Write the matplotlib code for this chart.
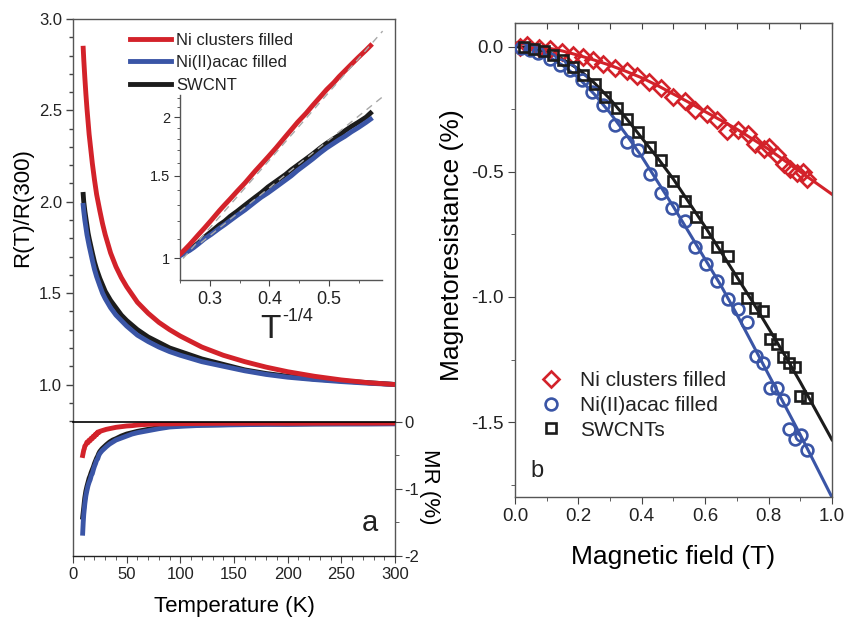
import numpy as np
import matplotlib.pyplot as plt
from matplotlib.ticker import MultipleLocator, NullFormatter
from matplotlib.transforms import Bbox, TransformedBbox

plt.rcParams['font.family'] = ['Liberation Sans', 'DejaVu Sans']
plt.rcParams['axes.unicode_minus'] = False
plt.rcParams['text.color'] = '#222222'
plt.rcParams['xtick.color'] = '#444444'
plt.rcParams['ytick.color'] = '#444444'
plt.rcParams['xtick.labelcolor'] = '#222222'
plt.rcParams['ytick.labelcolor'] = '#222222'

RED = '#d3222a'
BLUE = '#3a55a6'
BLACK = '#1c1c1c'
SPINE = '#555555'

# R(T)/R(300) against temperature
temp = np.array([9.5, 10, 11, 12, 13, 14, 15, 16.5, 18, 20, 22, 25, 27.5, 30, 35, 40,
                 45, 50, 60, 70, 80, 90, 100, 120, 140, 160, 180, 200, 225, 250, 275, 300])
r_ni = np.array([2.84, 2.78, 2.68, 2.59, 2.51, 2.44, 2.37, 2.29, 2.21, 2.12, 2.04, 1.95,
                 1.88, 1.82, 1.72, 1.645, 1.585, 1.535, 1.45, 1.39, 1.34, 1.30, 1.265, 1.205,
                 1.16, 1.125, 1.095, 1.07, 1.045, 1.025, 1.01, 1.0])
r_acac = np.array([1.98, 1.95, 1.90, 1.86, 1.82, 1.79, 1.76, 1.72, 1.68, 1.63, 1.59, 1.54,
                   1.50, 1.47, 1.42, 1.38, 1.35, 1.32, 1.27, 1.235, 1.205, 1.18, 1.16, 1.125,
                   1.10, 1.075, 1.055, 1.04, 1.027, 1.016, 1.007, 1.0])
r_swcnt = np.array([2.04, 2.00, 1.95, 1.91, 1.87, 1.83, 1.80, 1.76, 1.72, 1.67, 1.63, 1.58,
                    1.545, 1.51, 1.46, 1.42, 1.38, 1.35, 1.30, 1.26, 1.23, 1.20, 1.18, 1.14,
                    1.11, 1.08, 1.06, 1.045, 1.03, 1.02, 1.01, 1.0])

# VRH fits in the inset (T^-1/4, R)
fit_ni_x = [0.255, 0.59]
fit_ni_y = [1.00, 3.05]
fit_sw_x = [0.285, 0.59]
fit_sw_y = [1.08, 2.21]

# MR(T) in the lower panel
temp_mr = np.array([9, 9.5, 10, 10.5, 11, 12, 13, 14, 15, 16, 17, 18, 19, 20, 21, 22, 23, 24,
                    25, 27, 29, 31, 34, 37, 40, 45, 50, 55, 60, 70, 80, 90, 100, 120, 140,
                    160, 180, 200, 225, 250, 275, 300])
mr_ni_t = np.array([-0.50, -0.46, -0.42, -0.40, -0.36, -0.34, -0.30, -0.31, -0.27, -0.28,
                    -0.24, -0.25, -0.21, -0.22, -0.18, -0.19, -0.15, -0.16, -0.14, -0.13,
                    -0.12, -0.11, -0.10, -0.09, -0.08, -0.07, -0.06, -0.055, -0.045, -0.035,
                    -0.03, -0.028, -0.025, -0.022, -0.02, -0.02, -0.018, -0.02, -0.018,
                    -0.017, -0.017, -0.016])
mr_acac_t = np.array([-1.66, -1.50, -1.38, -1.30, -1.22, -1.10, -1.02, -0.95, -0.90, -0.86,
                      -0.80, -0.77, -0.71, -0.66, -0.62, -0.57, -0.55, -0.50, -0.47, -0.43,
                      -0.40, -0.37, -0.33, -0.30, -0.27, -0.24, -0.21, -0.18, -0.16, -0.13,
                      -0.10, -0.075, -0.065, -0.05, -0.045, -0.04, -0.035, -0.035, -0.03,
                      -0.03, -0.03, -0.028])
mr_swcnt_t = np.array([-1.42, -1.35, -1.28, -1.20, -1.13, -1.03, -0.96, -0.90, -0.84, -0.80,
                       -0.75, -0.71, -0.67, -0.62, -0.58, -0.54, -0.51, -0.47, -0.44, -0.40,
                       -0.37, -0.34, -0.30, -0.27, -0.25, -0.21, -0.18, -0.16, -0.14, -0.11,
                       -0.085, -0.065, -0.055, -0.045, -0.04, -0.035, -0.03, -0.03, -0.028,
                       -0.026, -0.025, -0.024])

# magnetoresistance against field
field_ni = np.array([0.016, 0.039, 0.077, 0.110, 0.147, 0.182, 0.216, 0.247, 0.279, 0.315,
                     0.352, 0.386, 0.424, 0.460, 0.499, 0.536, 0.568, 0.605, 0.638, 0.670,
                     0.705, 0.735, 0.757, 0.785, 0.800, 0.825, 0.850, 0.868, 0.889, 0.910,
                     0.920])
mr_ni = np.array([-0.001, 0.005, -0.004, -0.011, -0.022, -0.032, -0.041, -0.052, -0.068,
                  -0.085, -0.099, -0.119, -0.141, -0.164, -0.200, -0.218, -0.252, -0.270,
                  -0.295, -0.338, -0.332, -0.348, -0.390, -0.410, -0.402, -0.433, -0.468,
                  -0.490, -0.505, -0.500, -0.530])
field_acac = np.array([0.020, 0.047, 0.074, 0.110, 0.142, 0.174, 0.210, 0.242, 0.279, 0.315,
                       0.352, 0.389, 0.426, 0.460, 0.496, 0.536, 0.568, 0.603, 0.638, 0.673,
                       0.704, 0.731, 0.760, 0.783, 0.804, 0.827, 0.846, 0.865, 0.883, 0.901,
                       0.920])
mr_acac = np.array([-0.004, -0.015, -0.026, -0.048, -0.075, -0.095, -0.135, -0.182, -0.235,
                    -0.315, -0.382, -0.415, -0.508, -0.586, -0.644, -0.695, -0.799, -0.868,
                    -0.937, -1.010, -1.050, -1.100, -1.235, -1.262, -1.364, -1.363, -1.412,
                    -1.528, -1.566, -1.550, -1.610])
field_sw = np.array([0.030, 0.060, 0.090, 0.120, 0.150, 0.184, 0.216, 0.252, 0.284, 0.321,
                     0.352, 0.389, 0.426, 0.461, 0.500, 0.536, 0.571, 0.605, 0.638, 0.671,
                     0.701, 0.731, 0.757, 0.783, 0.804, 0.825, 0.846, 0.865, 0.883, 0.899,
                     0.920])
mr_sw = np.array([-0.002, -0.008, -0.018, -0.032, -0.055, -0.082, -0.115, -0.150, -0.202,
                  -0.244, -0.288, -0.342, -0.400, -0.455, -0.537, -0.617, -0.681, -0.741,
                  -0.799, -0.835, -0.925, -1.003, -1.045, -1.057, -1.168, -1.188, -1.239,
                  -1.262, -1.279, -1.395, -1.404])

fit_field = np.array([0.0, 0.05, 0.1, 0.15, 0.2, 0.25, 0.3, 0.35, 0.4, 0.45, 0.5, 0.55,
                      0.6, 0.65, 0.7, 0.75, 0.8, 0.85, 0.9, 0.95, 1.0])
fit_ni = np.array([0.015, 0.007, -0.005, -0.018, -0.035, -0.054, -0.075, -0.099, -0.125,
                   -0.156, -0.19, -0.224, -0.26, -0.295, -0.33, -0.37, -0.41, -0.455, -0.50,
                   -0.545, -0.59])
fit_acac = np.array([0.0, -0.008, -0.035, -0.075, -0.125, -0.19, -0.265, -0.35, -0.44, -0.54,
                     -0.64, -0.745, -0.85, -0.955, -1.07, -1.19, -1.31, -1.43, -1.55, -1.675,
                     -1.80])
fit_sw = np.array([0.0, -0.005, -0.02, -0.05, -0.09, -0.145, -0.21, -0.285, -0.365, -0.445,
                   -0.53, -0.625, -0.72, -0.82, -0.92, -1.02, -1.125, -1.23, -1.34, -1.455,
                   -1.57])

fig = plt.figure(figsize=(8.48, 6.19), dpi=100)

ax_r = fig.add_axes([0.0861, 0.3183, 0.3797, 0.6510])
ax_mr = fig.add_axes([0.0861, 0.1018, 0.3797, 0.2165])
ax_in = fig.add_axes([0.2123, 0.5477, 0.2382, 0.2989])
ax_b = fig.add_axes([0.6073, 0.1966, 0.3738, 0.7667])

for ax in (ax_r, ax_mr, ax_in, ax_b):
    for sp in ax.spines.values():
        sp.set_color(SPINE)
        sp.set_linewidth(1.0)

# --- panel a, upper: R(T)/R(300)
ax_r.plot(temp, r_swcnt, color=BLACK, lw=3.5, label='SWCNT', zorder=2)
ax_r.plot(temp, r_acac, color=BLUE, lw=3.5, label='Ni(II)acac filled', zorder=3)
ax_r.plot(temp, r_ni, color=RED, lw=3.5, label='Ni clusters filled', zorder=4)
ax_r.set_xlim(0, 300)
ax_r.set_ylim(0.795, 3.0)
ax_r.spines['bottom'].set_visible(False)
ax_r.set_xticks([])
ax_r.yaxis.set_major_locator(MultipleLocator(0.5))
ax_r.yaxis.set_minor_locator(MultipleLocator(0.1))
ax_r.yaxis.set_major_formatter(lambda v, p: f'{v:.1f}')
ax_r.tick_params(axis='y', which='major', direction='out', length=5, width=1,
                 labelsize=12, pad=3)
ax_r.tick_params(axis='y', which='minor', direction='out', length=3, width=1)
ax_r.set_ylabel('R(T)/R(300)', fontsize=16)
ax_r.yaxis.set_label_coords(-0.124, 0.531)

handles, labels = ax_r.get_legend_handles_labels()
ax_r.legend(handles[::-1], labels[::-1], loc='upper left', bbox_to_anchor=(0.177, 0.966),
            frameon=False, fontsize=12, handlelength=2.45, handletextpad=0.3,
            labelspacing=0.45, borderpad=0, borderaxespad=0)

# --- inset: R against T^-1/4; curves may run above the inset frame
x_in = temp ** -0.25
ax_in.patch.set_alpha(0)
in_lines = [
    ax_in.plot(x_in, r_swcnt, color=BLACK, lw=3.5, zorder=2)[0],
    ax_in.plot(x_in, r_acac, color=BLUE, lw=3.5, zorder=3)[0],
    ax_in.plot(x_in, r_ni, color=RED, lw=3.5, zorder=4)[0],
    ax_in.plot(fit_ni_x, fit_ni_y, color='#a8a8a8', lw=1.0, ls=(0, (5, 4)), zorder=5)[0],
    ax_in.plot(fit_sw_x, fit_sw_y, color='#a8a8a8', lw=1.0, ls=(0, (5, 4)), zorder=5)[0],
]
ax_in.set_yscale('log')
ax_in.set_xlim(0.25, 0.589)
ax_in.set_ylim(0.9, 2.23)
clip = TransformedBbox(Bbox([[0.25, 0.9], [0.6, 4.0]]), ax_in.transData)
for ln in in_lines:
    ln.set_clip_box(clip)
ax_in.spines['top'].set_visible(False)
ax_in.spines['right'].set_visible(False)
ax_in.set_yticks([1, 1.5, 2], ['1', '1.5', '2'])
ax_in.set_yticks([1.1, 1.2, 1.3, 1.4, 1.6, 1.7, 1.8, 1.9, 2.1, 2.2], minor=True)
ax_in.yaxis.set_minor_formatter(NullFormatter())
ax_in.set_xticks([0.3, 0.4, 0.5], ['0.3', '0.4', '0.5'])
ax_in.xaxis.set_minor_locator(MultipleLocator(0.05))
ax_in.tick_params(axis='x', which='major', direction='out', length=4, labelsize=13, pad=4)
ax_in.tick_params(axis='y', which='major', direction='out', length=4, labelsize=10.5, pad=3)
ax_in.tick_params(which='minor', direction='out', length=2.5)
fig.text(260 / 848, 1 - 338 / 619, 'T', fontsize=24, ha='left', va='baseline')
fig.text(282 / 848, 1 - 321 / 619, '-1/4', fontsize=13, ha='left', va='baseline')

# --- panel a, lower: MR(T)
ax_mr.plot(temp_mr, mr_swcnt_t, color=BLACK, lw=3.5, zorder=2)
ax_mr.plot(temp_mr, mr_acac_t, color=BLUE, lw=3.5, zorder=3)
ax_mr.plot(temp_mr, mr_ni_t, color=RED, lw=3.5, zorder=4)
ax_mr.set_xlim(0, 300)
ax_mr.set_ylim(-2.0, 0.0)
ax_mr.spines['top'].set_color('black')
ax_mr.spines['top'].set_linewidth(1.2)
ax_mr.spines['top'].set_zorder(6)
ax_mr.spines['bottom'].set_color('#222222')
ax_mr.xaxis.set_major_locator(MultipleLocator(50))
ax_mr.xaxis.set_minor_locator(MultipleLocator(10))
ax_mr.tick_params(axis='x', which='major', direction='out', length=5, labelsize=12, pad=3)
ax_mr.tick_params(axis='x', which='minor', direction='out', length=3)
ax_mr.yaxis.tick_right()
ax_mr.yaxis.set_label_position('right')
ax_mr.set_yticks([0, -1, -2], ['0', '-1', '-2'])
ax_mr.yaxis.set_minor_locator(MultipleLocator(0.5))
ax_mr.tick_params(axis='y', which='major', direction='out', length=5, labelsize=12, pad=2)
ax_mr.tick_params(axis='y', which='minor', direction='out', length=3)
ax_mr.set_ylabel('MR (%)', fontsize=16, rotation=270)
ax_mr.yaxis.set_label_coords(1.14, 0.515)
ax_mr.set_xlabel('Temperature (K)', fontsize=16, labelpad=10)
ax_mr.text(0.921, 0.246, 'a', transform=ax_mr.transAxes, fontsize=21,
           ha='center', va='center')

# --- panel b: MR against field
ax_b.plot(fit_field, fit_ni, color=RED, lw=2.2, zorder=2)
ax_b.plot(fit_field, fit_acac, color=BLUE, lw=2.2, zorder=2)
ax_b.plot(fit_field, fit_sw, color=BLACK, lw=2.2, zorder=2)
m_ni, = ax_b.plot(field_ni, mr_ni, 'D', ms=8, mfc='none', mec=RED, mew=1.9,
                  label='Ni clusters filled', zorder=3)
m_acac, = ax_b.plot(field_acac, mr_acac, 'o', ms=8.5, mfc='none', mec=BLUE, mew=1.9,
                    label='Ni(II)acac filled', zorder=3)
m_sw, = ax_b.plot(field_sw, mr_sw, 's', ms=7, mfc='none', mec=BLACK, mew=1.9,
                  label='SWCNTs', zorder=3)
ax_b.set_xlim(0, 1.0)
ax_b.set_ylim(-1.80, 0.095)
ax_b.xaxis.set_major_locator(MultipleLocator(0.2))
ax_b.xaxis.set_minor_locator(MultipleLocator(0.1))
ax_b.xaxis.set_major_formatter(lambda v, p: f'{v:.1f}')
ax_b.yaxis.set_major_locator(MultipleLocator(0.5))
ax_b.yaxis.set_minor_locator(MultipleLocator(0.25))
ax_b.yaxis.set_major_formatter(lambda v, p: f'{v:.1f}')
ax_b.tick_params(which='major', direction='out', length=5, labelsize=13.5, pad=3)
ax_b.tick_params(which='minor', direction='out', length=3)
top = ax_b.secondary_xaxis('top')
top.set_xticks(np.arange(0, 1.01, 0.1))
top.tick_params(direction='in', length=4, labeltop=False, color='#444444')
top.spines['top'].set_color(SPINE)
ax_b.set_xlabel('Magnetic field (T)', fontsize=19, labelpad=14)
ax_b.set_ylabel('Magnetoresistance (%)', fontsize=19)
ax_b.yaxis.set_label_coords(-0.161, 0.5305)
ax_b.legend(handles=[m_ni, m_acac, m_sw], loc='upper left', bbox_to_anchor=(0.081, 0.2656),
            frameon=False, fontsize=15, handlelength=1.0, handletextpad=0.9,
            labelspacing=0.27, borderpad=0, borderaxespad=0, numpoints=1)
ax_b.text(0.071, 0.055, 'b', transform=ax_b.transAxes, fontsize=17,
          ha='center', va='center')

fig.savefig('out.png', dpi=100)
